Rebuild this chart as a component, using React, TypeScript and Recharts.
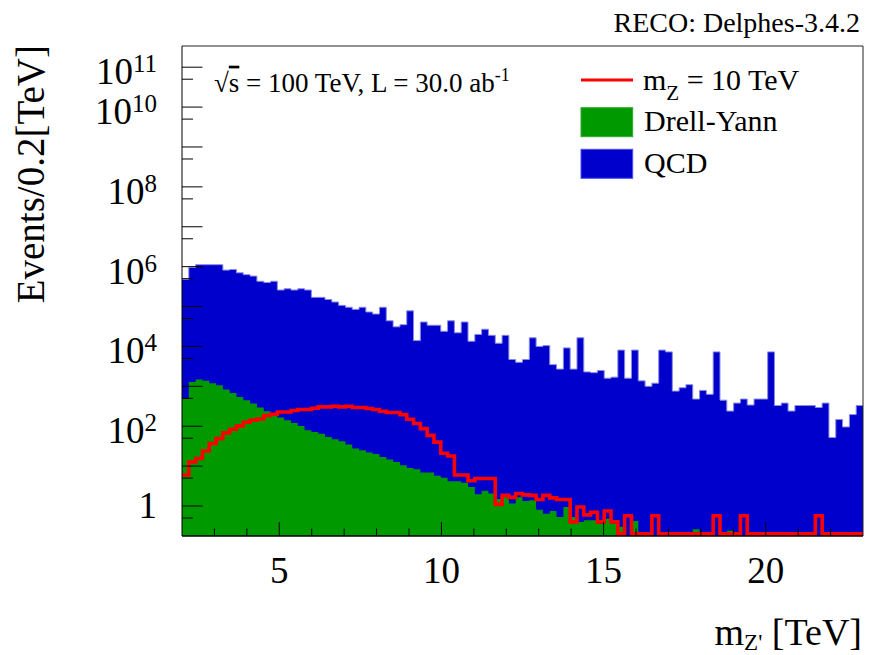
import React from "react";
import {
  ComposedChart,
  Area,
  Line,
  XAxis,
  YAxis,
  ReferenceLine,
  Legend,
} from "recharts";

const SERIF = '"Liberation Serif", "Times New Roman", serif';

const X_MIN = 2;
const X_MAX = 23;
const BIN_WIDTH = 0.21;
const Y_MIN = 0.177;
const Y_MAX = 3.4e11;
// empty bins of the signal outline sit on the lower frame edge, like ROOT does
const EMPTY_BIN = 0.2;

// 100 bins between 2 and 23 TeV
const qcd = [
  4.8e5, 9.6e5, 1.12e6, 1.12e6, 1.12e6, 1.12e6, 8.2e5, 8.5e5, 7.0e5, 6.3e5,
  5.8e5, 4.3e5, 4.0e5, 4.3e5, 2.6e5, 2.8e5, 2.6e5, 2.8e5, 2.6e5, 1.7e5,
  1.7e5, 1.5e5, 1.3e5, 1.07e5, 9.6e4, 8.5e4, 9.6e4, 7.3e4, 6.5e4, 9.6e4,
  4.4e4, 3.1e4, 3.5e4, 7.8e4, 1.4e4, 4.1e4, 3.4e4, 3.4e4, 2.4e4, 4.4e4,
  2.2e4, 4.1e4, 1.35e4, 2.0e4, 2.7e4, 1.9e4, 1.2e4, 1.9e4, 4.7e3, 4.0e3,
  4.7e3, 1.65e4, 1.0e4, 1.05e4, 3.5e3, 2.7e3, 9.2e3, 2.7e3, 1.65e4, 2.3e3,
  2.2e3, 2.5e3, 1.6e3, 1.7e3, 8.1e3, 1.6e3, 8.1e3, 1.37e3, 1.0e3, 1.2e3,
  8.1e3, 7.3e3, 760, 920, 1.1e3, 480, 790, 630, 7.3e3, 450,
  240, 380, 480, 340, 480, 480, 7.3e3, 330, 380, 240,
  330, 330, 330, 295, 380, 52, 147, 96, 196, 330,
];

const drellYan = [
  495, 1290, 1480, 1370, 1200, 1070, 830, 685, 543, 450,
  372, 295, 238, 189, 165, 141, 121, 102, 79, 72,
  65, 54, 47, 42, 35, 27.5, 25, 22, 20, 17,
  14.6, 12.7, 10.5, 9.0, 8.3, 6.9, 6.9, 5.7, 5.1, 4.2,
  4.2, 3.8, 3.0, 1.97, 2.4, 2.05, 1.5, 1.7, 1.15, 1.65,
  1.33, 1.4, 0.81, 0.64, 0.75, 0.53, 0.94, 0.53, 0.4, 0.44,
  0.44, 0.36, 0.48, 0.36, 0.3, 0, 0.42, 0, 0.22, 0,
  0, 0, 0, 0, 0, 0.26, 0, 0, 0, 0,
  0.24, 0, 0, 0, 0, 0, 0, 0, 0, 0,
  0, 0, 0, 0, 0, 0, 0, 0, 0, 0,
];

const signal = [
  6, 12.7, 15.5, 24, 37, 49, 68, 84, 102, 126,
  141, 152, 185, 200, 228, 228, 248, 263, 263, 283,
  305, 305, 317, 305, 317, 295, 295, 277, 263, 238,
  220, 220, 195, 150, 117, 87, 59, 40, 21, 18,
  6.0, 6.0, 4.3, 4.9, 4.9, 4.9, 1.1, 1.85, 1.65, 2.05,
  1.9, 1.85, 1.45, 1.85, 1.6, 1.45, 1.45, 0.4, 0.94, 0.6,
  0.7, 0.4, 0.75, 0.4, 0, 0.57, 0, 0, 0, 0.57,
  0, 0, 0, 0, 0, 0, 0, 0, 0.57, 0,
  0, 0, 0.57, 0, 0, 0, 0, 0, 0, 0,
  0, 0, 0, 0.57, 0, 0, 0, 0, 0, 0,
];

const xTicks = [3, 4, 5, 6, 7, 8, 9, 10, 11, 12, 13, 14, 15, 16, 17, 18, 19, 20, 21, 22];
const xLabelTicks = [5, 10, 15, 20];
const yTicks = [
  0.5, 1, 5, 10, 50, 100, 500, 1e3, 5e3, 1e4, 5e4, 1e5, 5e5, 1e6,
  5e6, 1e7, 5e7, 1e8, 5e8, 1e9, 5e9, 1e10, 5e10, 1e11,
];
const yLabelTicks = [1, 1e2, 1e4, 1e6, 1e8, 1e10, 1e11];

const rows = qcd.map((q, i) => ({
  x: Number((X_MIN + i * BIN_WIDTH).toFixed(2)),
  qcd: q > 0 ? q : Y_MIN,
  dy: drellYan[i] > 0 ? drellYan[i] : Y_MIN,
  sig: signal[i] > 0 ? signal[i] : EMPTY_BIN,
}));
// closing point so the last step reaches the right edge
rows.push({ ...rows[rows.length - 1], x: X_MAX });

function XTick(props: any) {
  const { x, y, payload } = props;
  const v = payload.value;
  const major = xLabelTicks.includes(v);
  return (
    <g>
      <line x1={x} x2={x} y1={y} y2={y - (major ? 14 : 7.5)} stroke="#000" strokeWidth={1} />
      {major && (
        <text x={x} y={y + 47} textAnchor="middle" fontSize={37} fontFamily={SERIF} fill="#000">
          {v}
        </text>
      )}
    </g>
  );
}

function YTick(props: any) {
  const { x, y, payload } = props;
  const v = payload.value;
  const exp = Math.round(Math.log10(v));
  const decade = Math.abs(Math.log10(v) - exp) < 1e-6;
  const labelled = yLabelTicks.includes(v);
  return (
    <g>
      <line x1={x} x2={x + (decade ? 20.5 : 11)} y1={y} y2={y} stroke="#000" strokeWidth={1} />
      {labelled && exp === 0 && (
        <text x={x - 25} y={y + 12} textAnchor="end" fontSize={37} fontFamily={SERIF} fill="#000">
          1
        </text>
      )}
      {labelled && exp > 0 && (
        <text x={x - 25} y={y + 17} textAnchor="end" fontSize={37} fontFamily={SERIF} fill="#000">
          <tspan>10</tspan>
          <tspan dy={-12} fontSize={25}>
            {exp}
          </tspan>
        </text>
      )}
    </g>
  );
}

function LegendBox() {
  return (
    <svg width={300} height={130} style={{ display: "block" }}>
      <line x1={6} x2={58} y1={20} y2={20} stroke="#ff0000" strokeWidth={3} />
      <text x={68} y={30} fontSize={30} fontFamily={SERIF} fill="#000">
        <tspan>m</tspan>
        <tspan dy={10} fontSize={21}>Z</tspan>
        <tspan dy={-10}> = 10 TeV</tspan>
      </text>
      <rect x={6} y={47.7} width={51.7} height={29} fill="#009900" stroke="#33aa33" />
      <text x={69} y={71} fontSize={30} fontFamily={SERIF} fill="#000">
        Drell-Yann
      </text>
      <rect x={6} y={89.3} width={51.7} height={29} fill="#0000cc" stroke="#4d4dff" />
      <text x={69} y={113.3} fontSize={30} fontFamily={SERIF} fill="#000">
        QCD
      </text>
    </svg>
  );
}

export default function App() {
  return (
    <div style={{ position: "absolute", left: 0, top: 0, width: 877, height: 655, background: "#fff" }}>
      <ComposedChart
        width={877}
        height={655}
        data={rows}
        margin={{ top: 46, right: 14, left: 0, bottom: 89 }}
      >
        <Area
          dataKey="qcd"
          name="QCD"
          type="stepAfter"
          fill="#0000cc"
          fillOpacity={1}
          stroke="#8a8ae6"
          strokeWidth={1}
          baseValue={Y_MIN}
          isAnimationActive={false}
        />
        <Area
          dataKey="dy"
          name="Drell-Yann"
          type="stepAfter"
          fill="#009900"
          fillOpacity={1}
          stroke="none"
          baseValue={Y_MIN}
          isAnimationActive={false}
        />
        <Line
          dataKey="sig"
          name="m_Z = 10 TeV"
          type="stepAfter"
          stroke="#ff0000"
          strokeWidth={3.6}
          dot={false}
          activeDot={false}
          isAnimationActive={false}
        />
        <ReferenceLine y={Y_MAX} stroke="#222" strokeWidth={1} />
        <ReferenceLine x={X_MAX} stroke="#222" strokeWidth={1} />
        <XAxis
          dataKey="x"
          type="number"
          domain={[X_MIN, X_MAX]}
          ticks={xTicks}
          interval={0}
          height={30}
          tickSize={0}
          tickMargin={0}
          tickLine={false}
          axisLine={{ stroke: "#000", strokeWidth: 1.5 }}
          tick={(p: any) => <XTick {...p} />}
        />
        <YAxis
          type="number"
          scale="log"
          domain={[Y_MIN, Y_MAX]}
          allowDataOverflow
          ticks={yTicks}
          interval={0}
          width={182}
          tickSize={0}
          tickMargin={0}
          tickLine={false}
          axisLine={{ stroke: "#000", strokeWidth: 1 }}
          tick={(p: any) => <YTick {...p} />}
        />
        <Legend
          layout="horizontal"
          verticalAlign="middle"
          align="center"
          wrapperStyle={{ position: "absolute", left: 575, top: 60, width: 300, height: 130 }}
          content={() => <LegendBox />}
        />
      </ComposedChart>
      <svg
        width={877}
        height={655}
        style={{ position: "absolute", left: 0, top: 0, pointerEvents: "none" }}
      >
        <text x={860} y={31.5} textAnchor="end" fontSize={28} fontFamily={SERIF} fill="#000">
          RECO: Delphes-3.4.2
        </text>
        <text x={214} y={91.7} fontSize={27} fontFamily={SERIF} fill="#000">
          <tspan>√</tspan>
          <tspan style={{ textDecoration: "overline" }}>s</tspan>
          <tspan> = 100 TeV, L = 30.0 ab</tspan>
          <tspan dy={-11} fontSize={18}>-1</tspan>
        </text>
        <text
          transform="translate(43.5,45) rotate(-90)"
          textAnchor="end"
          fontSize={39}
          fontFamily={SERIF}
          fill="#000"
        >
          Events/0.2[TeV]
        </text>
        <text x={862} y={645} textAnchor="end" fontSize={38} fontFamily={SERIF} fill="#000">
          <tspan>m</tspan>
          <tspan dy={5} fontSize={23}>Z'</tspan>
          <tspan dy={-5}> [TeV]</tspan>
        </text>
      </svg>
    </div>
  );
}
